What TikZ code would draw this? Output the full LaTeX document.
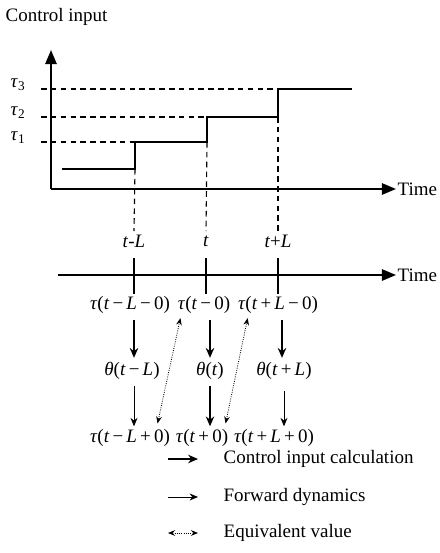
\documentclass[tikz,border=0pt]{standalone}
\usepackage{fontspec}
\setmainfont{Liberation Serif}
\usetikzlibrary{arrows.meta, positioning}

\tikzset{
  axis/.style  = {line width=1.4pt, -{Triangle[length=10pt,width=8pt]}},
  guide/.style = {line width=0.8pt, dash pattern=on 4pt off 3pt},
  stair/.style = {line width=1.4pt},
  tick/.style  = {line width=1.1pt},
  calc/.style  = {line width=1.3pt, -{Stealth[length=7pt,width=6pt]}},
  fwd/.style   = {line width=0.6pt, -{Stealth[length=6pt,width=5pt]}},
  equiv/.style = {line width=0.6pt, densely dotted,
                  {Stealth[length=5pt,width=4pt]}-{Stealth[length=5pt,width=4pt]}},
  txt/.style   = {font=\fontsize{13.5}{16}\selectfont, inner sep=1pt},
  val/.style   = {font=\fontsize{13.5}{16}\selectfont, inner sep=1pt},
}
\newcommand{\itm}[1]{\textit{#1}}
\newcommand{\op}{\,−\,}
\newcommand{\pl}{\,+\,}

\begin{document}
\begin{tikzpicture}[x=0.025cm, y=-0.025cm]
\useasboundingbox (0,0) rectangle (440,553);

% upper chart
\node[txt, anchor=west] (title) at (4,17) {Control input};
\coordinate (o) at (51,189);
\draw[axis] (o) -- (51,50);
\draw[axis] (o) -- (396,189) coordinate (xtip);
\node[txt, anchor=west] (time1) at (xtip) {Time};

\coordinate (s0) at (62,169);
\coordinate (s1) at (135,169);
\coordinate (s2) at (135,142);
\coordinate (s3) at (207,142);
\coordinate (s4) at (207,117);
\coordinate (s5) at (278,117);
\coordinate (s6) at (278,89);
\coordinate (s7) at (352,89);
\draw[stair] (s0) -- (s1) -- (s2) -- (s3) -- (s4) -- (s5) -- (s6) -- (s7);

\foreach \n/\c in {1/s2, 2/s4, 3/s6} {
    \node[val] (tau\n) at (18,0 |- \c) [yshift=3pt] {\itm{τ}\textsubscript{\n}};
    \draw[guide] (41,0 |- \c) -- (\c);
}

% time line
\draw[axis] (58,275) -- (396,275) coordinate (ltip);
\node[txt, anchor=west] (time2) at (ltip) {Time};

\foreach \c/\x/\lab [count=\i] in {s1/134/{\itm{t}-\itm{L}},
                                   s3/206/{\itm{t}},
                                   s5/278/{\itm{t}+\itm{L}}} {
    \node[txt] (k\i) at (\x,241) {\lab};
    \draw[guide] (\c) -- (\x,231);
    \draw[tick] (\x,258) -- (\x,294);
}

% values
\node[val] (a1) at (130,305) {\itm{τ}(\itm{t}\op\itm{L}\op0)};
\node[val] (a2) at (204,305) {\itm{τ}(\itm{t}\op0)};
\node[val] (a3) at (278,305) {\itm{τ}(\itm{t}\pl\itm{L}\op0)};
\node[val] (b1) at (132,371) {\itm{θ}(\itm{t}\op\itm{L})};
\node[val] (b2) at (210,371) {\itm{θ}(\itm{t})};
\node[val] (b3) at (284,371) {\itm{θ}(\itm{t}\pl\itm{L})};
\node[val] (c1) at (130,438) {\itm{τ}(\itm{t}\op\itm{L}\pl0)};
\node[val] (c2) at (202,438) {\itm{τ}(\itm{t}\pl0)};
\node[val] (c3) at (274,438) {\itm{τ}(\itm{t}\pl\itm{L}\pl0)};

\draw[calc] ([yshift=-3pt]a1.south -| k1) -- ([yshift=2pt]b1.north -| k1);
\draw[calc] ([yshift=-3pt]a2.south -| b2) -- ([yshift=2pt]b2.north -| b2);
\draw[calc] ([yshift=-3pt]a3.south -| 282,0) -- ([yshift=2pt]b3.north -| 282,0);
\draw[fwd] ([yshift=-3pt]b1.south -| k1) -- ([yshift=1pt]c1.north -| k1);
\draw[calc] ([yshift=-3pt]b2.south -| b2) -- ([yshift=1pt]c2.north -| b2);
\draw[fwd] ([yshift=-7pt]b3.south -| b3) -- ([yshift=1pt]c3.north -| b3);

\draw[equiv] ([xshift=-10pt,yshift=3pt]c1.north east) -- ([xshift=3pt,yshift=-2pt]a2.south west);
\draw[equiv] ([xshift=-3pt,yshift=3pt]c2.north east) -- ([xshift=8pt,yshift=-2pt]a3.south west);

% legend
\node[txt, anchor=west] (leg1) at (222,459) {Control input calculation};
\node[txt, anchor=west] (leg2) at (222,497) {Forward dynamics};
\node[txt, anchor=west] (leg3) at (222,533) {Equivalent value};
\draw[calc] (leg1.west) ++(-54,0) -- ++(30,0);
\draw[fwd] (leg2.west) ++(-54,0) -- ++(30,0);
\draw[equiv] (leg3.west) ++(-54,0) -- ++(30,0);
\end{tikzpicture}
\end{document}
